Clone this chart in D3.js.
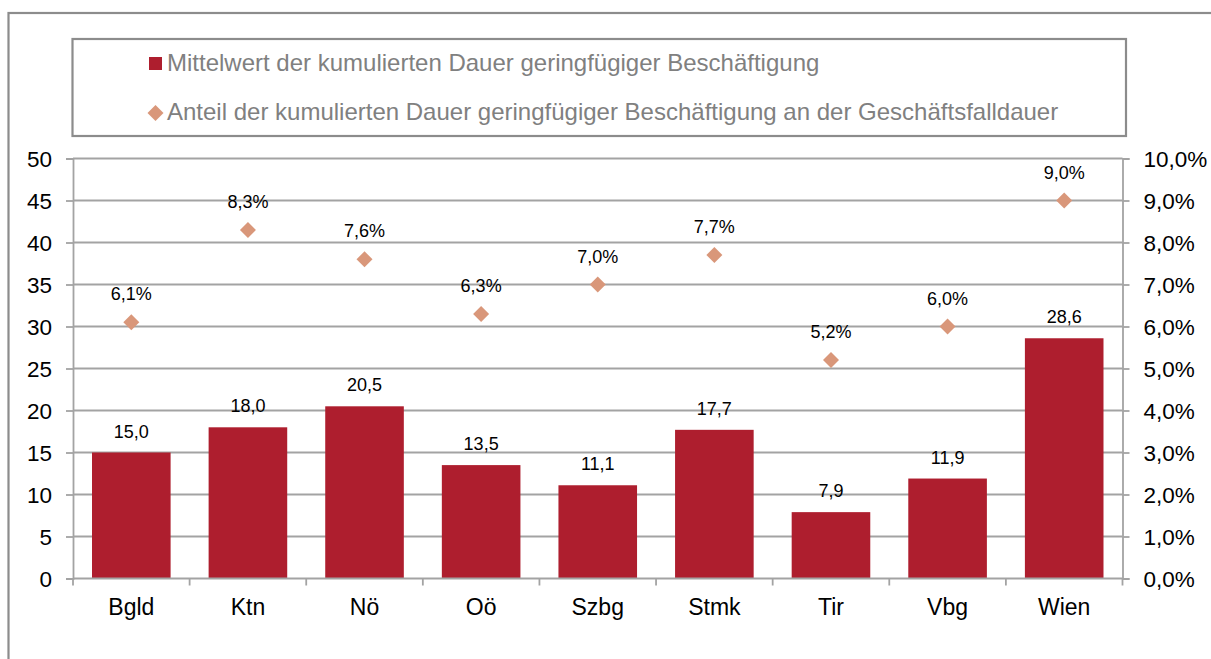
<!DOCTYPE html>
<html><head><meta charset="utf-8">
<script src="https://cdn.jsdelivr.net/npm/d3@7"></script>
<style>body{margin:0;background:#fff}svg{display:block;font-family:"Liberation Sans",Arial,sans-serif}</style>
</head><body><svg id="c" width="1211" height="659"></svg>
<script>
const categories = ["Bgld","Ktn","Nö","Oö","Szbg","Stmk","Tir","Vbg","Wien"];
const meanDuration = [15.0,18.0,20.5,13.5,11.1,17.7,7.9,11.9,28.6];
const shareDuration = [6.1,8.3,7.6,6.3,7.0,7.7,5.2,6.0,9.0];
const leftTicks = [0,5,10,15,20,25,30,35,40,45,50];
const rightTicks = [0,1,2,3,4,5,6,7,8,9,10];
const legendLabels = ["Mittelwert der kumulierten Dauer geringfügiger Beschäftigung","Anteil der kumulierten Dauer geringfügiger Beschäftigung an der Geschäftsfalldauer"];

const barColor = "#AE1E2E", diaColor = "#D9977A", gridColor = "#a3a3a3";
const svg = d3.select("#c");
const L = 73, R = 1122.5, T = 158.5, B = 578.5;

// outer border
svg.append("rect").attr("x",8.5).attr("y",13).attr("width",1220).attr("height",700)
  .attr("fill","none").attr("stroke","#8c8c8c").attr("stroke-width",2.2);
// legend box
svg.append("rect").attr("x",72.5).attr("y",39).attr("width",1053.5).attr("height",97)
  .attr("fill","none").attr("stroke","#8c8c8c").attr("stroke-width",2.2);

const x = d3.scaleBand().domain(categories).range([L,R]).paddingInner(0.326).paddingOuter(0.163);
const y = d3.scaleLinear().domain([0,50]).range([B,T]);
const y2 = d3.scaleLinear().domain([0,10]).range([B,T]);

// gridlines
svg.append("g").selectAll("line").data(leftTicks.filter(d=>d>0)).join("line")
  .attr("x1",L).attr("x2",R).attr("y1",d=>y(d)).attr("y2",d=>y(d))
  .attr("stroke",gridColor).attr("stroke-width",1.8);

// axes
const ax = svg.append("g").attr("transform",`translate(${L},0)`)
  .call(d3.axisLeft(y).tickValues(leftTicks).tickSize(7).tickPadding(14).tickFormat(d3.format("d")));
const ax2 = svg.append("g").attr("transform",`translate(${R},0)`)
  .call(d3.axisRight(y2).tickValues(rightTicks).tickSize(7).tickPadding(14).tickFormat(d=>d.toFixed(1).replace(".",",")+"%"));
[ax,ax2].forEach(a=>{
  a.select(".domain").attr("stroke",gridColor).attr("stroke-width",1.8);
  a.selectAll(".tick line").attr("stroke",gridColor).attr("stroke-width",1.8);
  a.selectAll("text").attr("font-size",22.5).attr("fill","#000").attr("font-family","Liberation Sans, Arial, sans-serif").attr("dy","0.36em");
});

// bars
svg.append("g").selectAll("rect").data(categories).join("rect")
  .attr("x",d=>x(d)).attr("width",x.bandwidth())
  .attr("y",(d,i)=>y(meanDuration[i])).attr("height",(d,i)=>B-y(meanDuration[i]))
  .attr("fill",barColor);

// x axis
const step = x.step();
const ax3 = svg.append("g").attr("transform",`translate(0,${B})`)
  .call(d3.axisBottom(x).tickSize(0).tickPadding(20));
ax3.select(".domain").remove();
ax3.selectAll("text").attr("font-size",23).attr("fill","#000").attr("font-family","Liberation Sans, Arial, sans-serif");
svg.append("line").attr("x1",L).attr("x2",R).attr("y1",B).attr("y2",B).attr("stroke",gridColor).attr("stroke-width",1.8);
svg.append("g").selectAll("line").data(d3.range(categories.length+1)).join("line")
  .attr("x1",i=>L+i*step).attr("x2",i=>L+i*step).attr("y1",B).attr("y2",B+7)
  .attr("stroke",gridColor).attr("stroke-width",1.8);

// bar labels
svg.append("g").selectAll("text").data(categories).join("text")
  .attr("x",d=>x(d)+x.bandwidth()/2).attr("y",(d,i)=>y(meanDuration[i])-15)
  .attr("text-anchor","middle").attr("font-size",18).attr("fill","#000")
  .text((d,i)=>meanDuration[i].toFixed(1).replace(".",","));

// diamonds
const diamond = d3.symbol().type(d3.symbolSquare).size(128);
svg.append("g").selectAll("path").data(categories).join("path")
  .attr("d",diamond)
  .attr("transform",(d,i)=>`translate(${x(d)+x.bandwidth()/2},${y2(shareDuration[i])}) rotate(45)`)
  .attr("fill",diaColor);
svg.append("g").selectAll("text").data(categories).join("text")
  .attr("x",d=>x(d)+x.bandwidth()/2).attr("y",(d,i)=>y2(shareDuration[i])-22)
  .attr("text-anchor","middle").attr("font-size",18).attr("fill","#000")
  .text((d,i)=>shareDuration[i].toFixed(1).replace(".",",")+"%");

// legend
const lg = svg.append("g");
lg.append("rect").attr("x",149).attr("y",57).attr("width",13).attr("height",13).attr("fill",barColor);
lg.append("path").attr("d",diamond).attr("transform","translate(155.5,113) rotate(45)").attr("fill",diaColor);
lg.selectAll("text").data(legendLabels).join("text")
  .attr("x",167).attr("y",(d,i)=>71+i*48.5)
  .attr("font-size",24).attr("fill","#808080").text(d=>d);
</script></body></html>
